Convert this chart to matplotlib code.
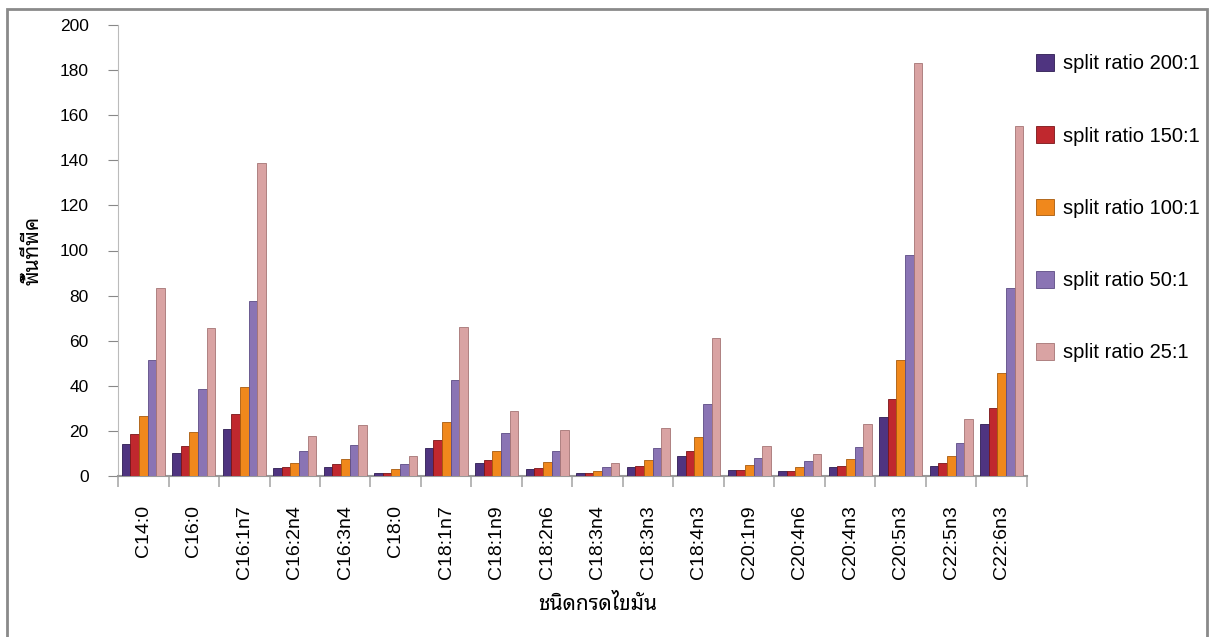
import matplotlib
matplotlib.use("Agg")
import matplotlib.pyplot as plt
from matplotlib import font_manager
import numpy as np

categories = ["C14:0", "C16:0", "C16:1n7", "C16:2n4", "C16:3n4", "C18:0", "C18:1n7",
              "C18:1n9", "C18:2n6", "C18:3n4", "C18:3n3", "C18:4n3", "C20:1n9",
              "C20:4n6", "C20:4n3", "C20:5n3", "C22:5n3", "C22:6n3"]
series_names = ["split ratio 200:1", "split ratio 150:1", "split ratio 100:1",
                "split ratio 50:1", "split ratio 25:1"]
ratio_200 = [14, 10, 21, 3.4, 3.8, 1.5, 12.3, 5.6, 3.3, 1.2, 3.8, 8.9, 2.5, 2.1, 4.0, 26, 4.4, 23]
ratio_150 = [18.5, 13.3, 27.6, 4.1, 5.2, 1.5, 15.8, 7.2, 3.7, 1.2, 4.4, 11, 2.5, 2.1, 4.4, 34, 5.6, 30]
ratio_100 = [26.5, 19.7, 39.6, 5.6, 7.4, 3.0, 24, 11, 6.1, 2.1, 7.0, 17.3, 4.9, 3.8, 7.4, 51.4, 9.0, 45.8]
ratio_50 = [51.4, 38.4, 77.6, 11, 13.6, 5.2, 42.4, 19, 11, 3.8, 12.4, 31.8, 8.0, 6.5, 12.9, 98, 14.5, 83.5]
ratio_25 = [83.4, 65.5, 139, 17.6, 22.5, 8.7, 66.2, 28.7, 20.3, 5.9, 21.4, 61, 13.2, 9.6, 23, 183, 25.3, 155]
y_ticks = [0, 20, 40, 60, 80, 100, 120, 140, 160, 180, 200]
y_label = "พื้นที่พีค"
x_label = "ชนิดกรดไขมัน"

colors = ["#4f3480", "#c0282e", "#f0881c", "#8a74b4", "#d9a3a3"]
edges = ["#2e1c52", "#7a1518", "#a85a0c", "#5d4c85", "#a57474"]

names = {f.name for f in font_manager.fontManager.ttflist}
thai_font = None
for cand in ["Noto Sans Thai Looped", "Sarabun", "Noto Sans Thai", "Loma"]:
    if cand in names:
        thai_font = cand
        break

plt.rcParams['font.family'] = ['Liberation Sans', 'DejaVu Sans']

fig = plt.figure(figsize=(12.1, 6.37), dpi=100)
ax = fig.add_axes([118/1210, 1 - 476/637, (1027-118)/1210, (476-25)/637])

data = [ratio_200, ratio_150, ratio_100, ratio_50, ratio_25]
x = np.arange(len(categories))
w = 0.17
for i, (vals, name) in enumerate(zip(data, series_names)):
    ax.bar(x + (i - 2) * w, vals, width=w, color=colors[i], edgecolor=edges[i],
           linewidth=0.6, label=name, zorder=3)

ax.set_xlim(-0.5, len(categories) - 0.5)
ax.set_ylim(0, 200)
ax.set_yticks(y_ticks)
ax.tick_params(axis='y', labelsize=12.5, length=7, color='#888888', pad=14)
ax.set_xticks(np.arange(len(categories) + 1) - 0.5, minor=False)
ax.set_xticklabels([""] * (len(categories) + 1))
ax.set_xticks(x, minor=True)
ax.set_xticklabels(categories, minor=True, rotation=90, fontsize=14)
ax.tick_params(axis='x', which='major', length=8, color='#aaaaaa', width=1.2)
ax.tick_params(axis='x', which='minor', length=0, pad=21)
for s in ['top', 'right']:
    ax.spines[s].set_visible(False)
ax.spines['left'].set_color('#bbbbbb')
ax.spines['bottom'].set_color('#999999')
ax.spines['bottom'].set_linewidth(1.5)

fam = [thai_font, 'DejaVu Sans'] if thai_font else ['DejaVu Sans']
fig.text(33/1210, 1 - 250/637, y_label, rotation=90, fontsize=15, ha='center', va='center',
         family=fam, fontweight='bold')
fig.text(598/1210, 1 - 604/637, x_label, fontsize=15, ha='center', va='center',
         family=fam, fontweight='bold')

handles, labels = ax.get_legend_handles_labels()
leg = fig.legend(handles, labels, loc='upper left', bbox_to_anchor=(1028/1210, 1 - 46/637),
                 frameon=False, fontsize=14.5, labelspacing=2.63, handlelength=0.9,
                 handleheight=0.9, handletextpad=0.45, borderaxespad=0)

fig.patches.append(matplotlib.patches.Rectangle((7/1210, -0.05), 1200/1210, 1.05 - 9/637,
                   transform=fig.transFigure, fill=False, edgecolor='#8a8a8a', linewidth=2))

fig.savefig("out.png", dpi=100)
